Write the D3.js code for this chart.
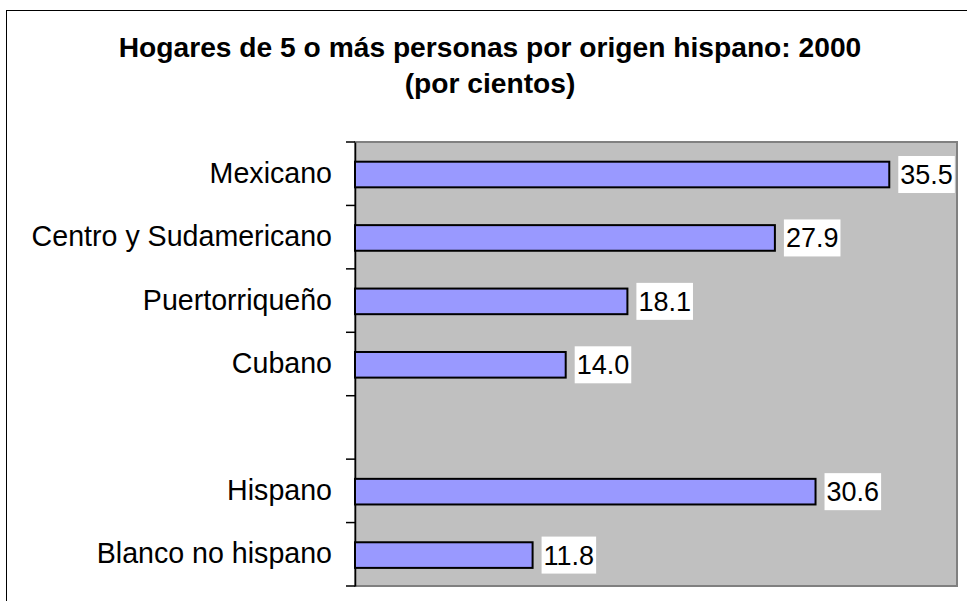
<!DOCTYPE html>
<html><head><meta charset="utf-8">
<script src="https://cdn.jsdelivr.net/npm/d3@7"></script>
<style>html,body{margin:0;padding:0;background:#fff;}svg{display:block;}</style>
</head><body>
<script>
const titleLines = ["Hogares de 5 o más personas por origen hispano: 2000", "(por cientos)"];
const categories = ["Mexicano", "Centro y Sudamericano", "Puertorriqueño", "Cubano", "", "Hispano", "Blanco no hispano"];
const values = [35.5, 27.9, 18.1, 14.0, null, 30.6, 11.8];
const xDomain = [0, 40];

const W = 967, H = 601;
const svg = d3.select("body").append("svg").attr("width", W).attr("height", H);

// outer frame
svg.append("rect").attr("x", 6.5).attr("y", 10.5).attr("width", W + 10).attr("height", H + 10)
  .attr("fill", "#fff").attr("stroke", "#000").attr("stroke-width", 1);

const plot = {left: 355, top: 142, right: 957, bottom: 586};
const x = d3.scaleLinear().domain(xDomain).range([plot.left, plot.right]);
const y = d3.scaleBand().domain(categories.map((c, i) => i)).range([plot.top, plot.bottom]).padding(0);

// title
svg.append("g").selectAll("text").data(titleLines).join("text")
  .attr("x", 490).attr("y", (d, i) => 56.7 + i * 36.6)
  .attr("text-anchor", "middle")
  .attr("font-family", "Liberation Sans, Arial, sans-serif")
  .attr("font-weight", "bold").attr("font-size", 28.2).attr("fill", "#000")
  .text(d => d);

// plot area
svg.append("rect").attr("x", plot.left).attr("y", plot.top)
  .attr("width", plot.right - plot.left).attr("height", plot.bottom - plot.top)
  .attr("fill", "#C0C0C0").attr("stroke", "#808080").attr("stroke-width", 2);

// axis
const axis = d3.axisLeft(y).tickSize(0).tickFormat(i => categories[i]);
const gAxis = svg.append("g").attr("transform", `translate(${plot.left},0)`).call(axis);
gAxis.select(".domain").attr("stroke", "#000").attr("stroke-width", 1.5);
gAxis.selectAll("text").attr("font-family", "Liberation Sans, Arial, sans-serif")
  .attr("font-size", 28.6).attr("fill", "#000").attr("x", -23).attr("dy", "0.32em");

// tick marks at band boundaries
const bounds = d3.range(categories.length + 1).map(i => plot.top + i * y.step());
svg.append("g").selectAll("line").data(bounds).join("line")
  .attr("x1", plot.left - 9).attr("x2", plot.left).attr("y1", d => d).attr("y2", d => d)
  .attr("stroke", "#000").attr("stroke-width", 1.5);

const data = categories.map((c, i) => ({c, i, v: values[i]})).filter(d => d.v != null);
const barH = y.bandwidth() * 0.404;

svg.append("g").selectAll("rect").data(data).join("rect")
  .attr("x", x(0)).attr("y", d => y(d.i) + y.bandwidth() / 2 - barH / 2 + 0.8)
  .attr("width", d => x(d.v) - x(0)).attr("height", barH)
  .attr("fill", "#9999FF").attr("stroke", "#000").attr("stroke-width", 2);

// value labels with white boxes
const lg = svg.append("g").selectAll("g").data(data).join("g")
  .attr("transform", d => `translate(${x(d.v) + 9},${y(d.i) + y.bandwidth() / 2 + 0.8})`);
lg.append("rect").attr("x", 0).attr("y", -18.5).attr("height", 37).attr("fill", "#fff");
lg.append("text").attr("x", 2).attr("dy", "0.35em")
  .attr("font-family", "Liberation Sans, Arial, sans-serif").attr("font-size", 27).attr("fill", "#000")
  .text(d => d3.format(".1f")(d.v));
lg.each(function() {
  const t = d3.select(this).select("text").node().getComputedTextLength();
  d3.select(this).select("rect").attr("width", t + 4);
});
</script>
</body></html>
